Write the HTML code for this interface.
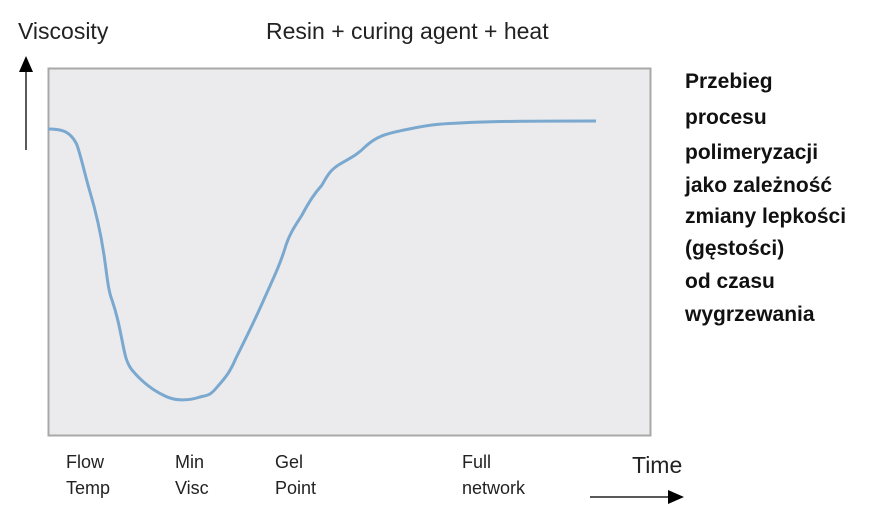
<!DOCTYPE html>
<html><head><meta charset="utf-8"><style>
body{margin:0;background:#fff;width:872px;height:521px;overflow:hidden;font-family:"Liberation Sans",sans-serif}
</style></head><body>
<svg width="872" height="521" xmlns="http://www.w3.org/2000/svg" font-family="Liberation Sans, sans-serif">
<rect x="48.5" y="68.5" width="602" height="367" fill="#ebebed" stroke="#a8a8a8" stroke-width="2"/>
<path d="M48,129 C60,129 70,130 77,145 C82,160 85,175 90,192 C96,212 101,235 104,255 C107,275 108,290 112,300 C117,315 119,325 122,340 C125,355 126,362 132,370 C142,382 152,390 165,396 C175,401 188,401 200,397 C208,395 210,396 218,386 C226,377 230,372 236,358 C245,340 255,320 265,297 C275,275 281,262 286,245 C290,233 295,226 302,215 C310,200 315,193 322,185 C327,176 330,170 340,164 C350,158 356,156 366,146 C378,135 390,133 404,130 C420,127 430,124 460,123 C500,121 540,121 596,121" fill="none" stroke="#7aa8cf" stroke-width="3"/>
<line x1="26" y1="150" x2="26" y2="70" stroke="#222" stroke-width="1.5"/>
<polygon points="19,72 33,72 26,56" fill="#000"/>
<line x1="590" y1="497" x2="670" y2="497" stroke="#222" stroke-width="1.5"/>
<polygon points="668,490 668,504 684,497" fill="#000"/>
<g font-size="23" fill="#222">
<text x="18" y="39">Viscosity</text>
<text x="266" y="39">Resin + curing agent + heat</text>
<text x="632" y="473">Time</text>
</g>
<g font-size="18" fill="#222">
<text x="66" y="468">Flow</text><text x="66" y="494">Temp</text>
<text x="175" y="468">Min</text><text x="175" y="494">Visc</text>
<text x="275" y="468">Gel</text><text x="275" y="494">Point</text>
<text x="462" y="468">Full</text><text x="462" y="494">network</text>
</g>
<g font-size="21" font-weight="bold" fill="#111">
<text x="685" y="88">Przebieg</text>
<text x="685" y="124">procesu</text>
<text x="685" y="159">polimeryzacji</text>
<text x="685" y="192">jako zależność</text>
<text x="685" y="223">zmiany lepkości</text>
<text x="685" y="255">(gęstości)</text>
<text x="685" y="288">od czasu</text>
<text x="685" y="321">wygrzewania</text>
</g>
</svg>
</body></html>
